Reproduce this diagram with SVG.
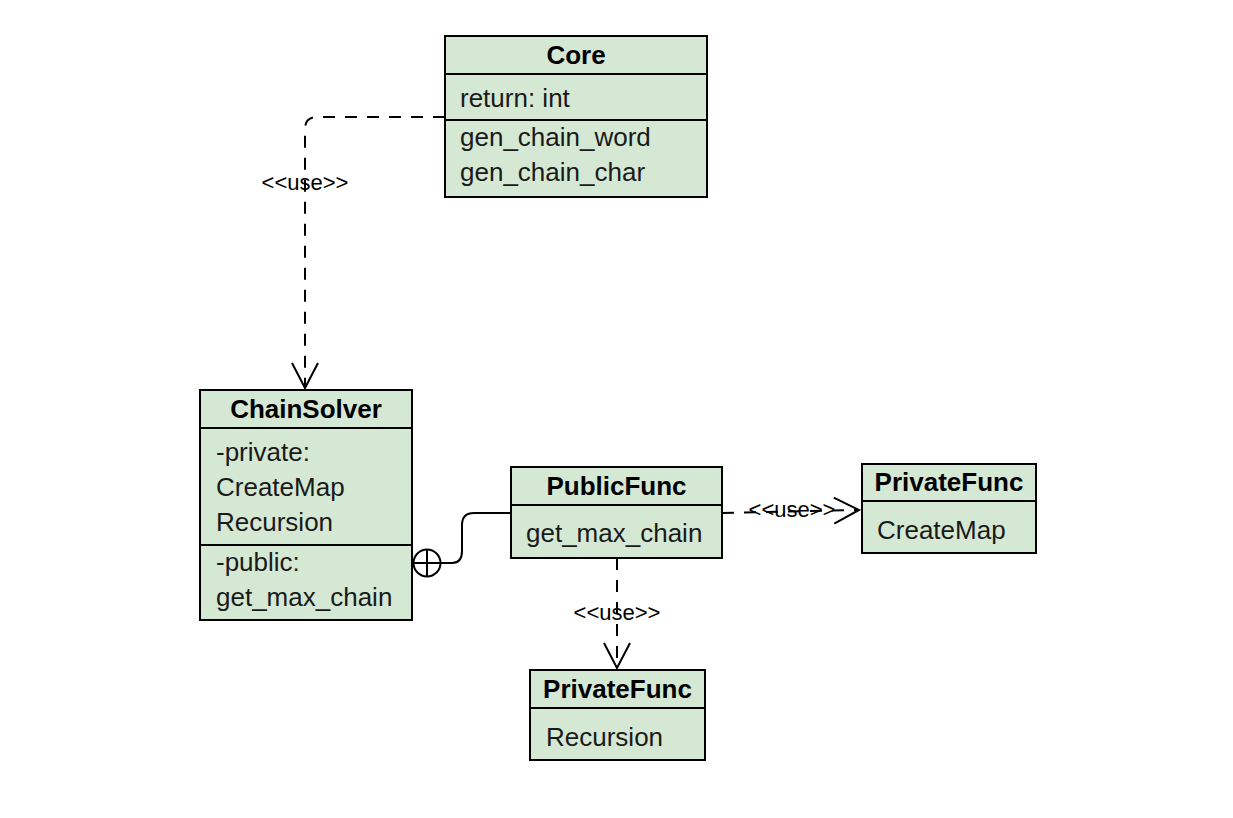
<svg xmlns="http://www.w3.org/2000/svg" width="1233" height="818" viewBox="0 0 1233 818">
<style>
.box{fill:#d5e8d4;stroke:#000;stroke-width:2}
.div{stroke:#000;stroke-width:2}
.t{font-family:"Liberation Sans",Arial,sans-serif;font-size:26px;fill:#1a1a1a}
.h{font-family:"Liberation Sans",Arial,sans-serif;font-size:26px;font-weight:bold;fill:#000;text-anchor:middle}
.lbl{font-family:"Liberation Sans",Arial,sans-serif;font-size:22px;fill:#000;text-anchor:middle}
.dash{fill:none;stroke:#000;stroke-width:2;stroke-dasharray:12 10}
.solid{fill:none;stroke:#000;stroke-width:2}
</style>
<defs>
<marker id="open" viewBox="0 0 30 30" refX="26" refY="15" markerWidth="30" markerHeight="30" markerUnits="userSpaceOnUse" orient="auto">
<path d="M1,2 L26,15 L1,28" fill="none" stroke="#000" stroke-width="2"/>
</marker>
</defs>
<rect width="1233" height="818" fill="#fff"/>
<g id="connectors">
<path class="dash" d="M445,117 L317,117 Q305,117 305,129 L305,388" marker-end="url(#open)"/>
<text class="lbl" x="305" y="190">&lt;&lt;use&gt;&gt;</text>
<path class="dash" d="M722,513 L859,510" marker-end="url(#open)"/>
<text class="lbl" x="792" y="517">&lt;&lt;use&gt;&gt;</text>
<path class="dash" d="M617,558 L617,668" marker-end="url(#open)"/>
<text class="lbl" x="617" y="620">&lt;&lt;use&gt;&gt;</text>
<path class="solid" d="M440,563 L452,563 Q462,563 462,551 L462,525 Q462,513 474,513 L511,513"/>
<circle class="solid" cx="427" cy="563" r="13.5"/>
<line class="solid" x1="413.5" y1="563" x2="440.5" y2="563"/>
<line class="solid" x1="427" y1="549.5" x2="427" y2="576.5"/>
</g>
<g id="core">
<rect class="box" x="445" y="36" width="262" height="161"/>
<line class="div" x1="445" y1="74" x2="707" y2="74"/>
<line class="div" x1="445" y1="120" x2="707" y2="120"/>
<text class="h" x="576" y="64">Core</text>
<text class="t" x="460" y="107">return: int</text>
<text class="t" x="460" y="146">gen_chain_word</text>
<text class="t" x="460" y="181">gen_chain_char</text>
</g>
<g id="chainsolver">
<rect class="box" x="200" y="390" width="212" height="230"/>
<line class="div" x1="200" y1="428" x2="412" y2="428"/>
<line class="div" x1="200" y1="545" x2="412" y2="545"/>
<text class="h" x="306" y="418">ChainSolver</text>
<text class="t" x="216" y="461">-private:</text>
<text class="t" x="216" y="496">CreateMap</text>
<text class="t" x="216" y="531">Recursion</text>
<text class="t" x="216" y="571">-public:</text>
<text class="t" x="216" y="606">get_max_chain</text>
</g>
<g id="publicfunc">
<rect class="box" x="511" y="467" width="211" height="91"/>
<line class="div" x1="511" y1="505" x2="722" y2="505"/>
<text class="h" x="616.5" y="495">PublicFunc</text>
<text class="t" x="526" y="542">get_max_chain</text>
</g>
<g id="privatefunc-createmap">
<rect class="box" x="862" y="464" width="174" height="89"/>
<line class="div" x1="862" y1="501" x2="1036" y2="501"/>
<text class="h" x="949" y="491">PrivateFunc</text>
<text class="t" x="877" y="539">CreateMap</text>
</g>
<g id="privatefunc-recursion">
<rect class="box" x="530" y="670" width="175" height="90"/>
<line class="div" x1="530" y1="708" x2="705" y2="708"/>
<text class="h" x="617.5" y="698">PrivateFunc</text>
<text class="t" x="546" y="746">Recursion</text>
</g>
</svg>
